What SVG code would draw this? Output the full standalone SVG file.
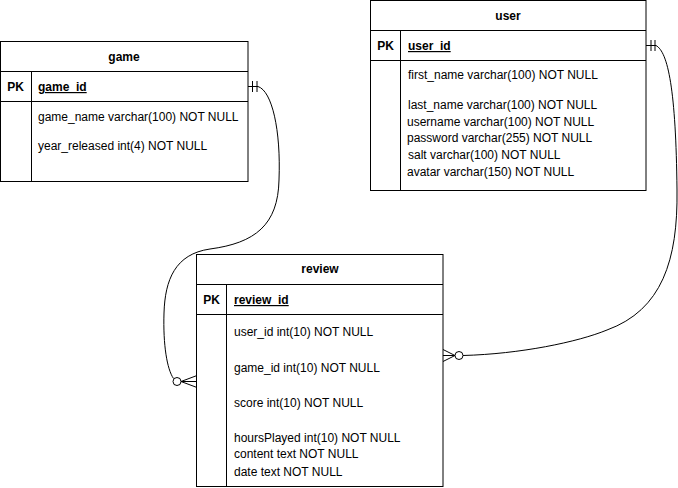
<svg xmlns="http://www.w3.org/2000/svg" width="678" height="488" viewBox="0 0 678 488">
<style>
  .box { fill: #fff; stroke: #000; stroke-width: 1; }
  .ln { fill: none; stroke: #000; stroke-width: 1; }
  .edge { fill: none; stroke: #000; stroke-width: 1; }
  .circ { fill: #fff; stroke: #000; stroke-width: 1; }
  text { font-family: "Liberation Sans", Arial, sans-serif; font-size: 12px; fill: #000; }
  .hdr { font-weight: bold; text-anchor: middle; }
  .pk { font-weight: bold; text-anchor: middle; }
  .key { font-weight: bold; text-decoration: underline; }
</style>
<rect x="0" y="0" width="678" height="488" fill="#fff"/>

<g id="game">
  <rect class="box" x="0.5" y="41.5" width="247.5" height="140"/>
  <line class="ln" x1="0.5" y1="71.5" x2="248" y2="71.5"/>
  <line class="ln" x1="0.5" y1="101.5" x2="248" y2="101.5"/>
  <line class="ln" x1="31.5" y1="71.5" x2="31.5" y2="181.5"/>
  <text class="hdr" x="124" y="61">game</text>
  <text class="pk" x="15.5" y="91">PK</text>
  <text class="key" x="38" y="91">game_id</text>
  <text x="38" y="121">game_name varchar(100) NOT NULL</text>
  <text x="38" y="150">year_released int(4) NOT NULL</text>
</g>

<g id="user">
  <rect class="box" x="370.5" y="0.5" width="275.5" height="190"/>
  <line class="ln" x1="370.5" y1="30.5" x2="646" y2="30.5"/>
  <line class="ln" x1="370.5" y1="60.5" x2="646" y2="60.5"/>
  <line class="ln" x1="400.5" y1="30.5" x2="400.5" y2="190.5"/>
  <text class="hdr" x="508" y="20">user</text>
  <text class="pk" x="385.5" y="50">PK</text>
  <text class="key" x="408" y="50">user_id</text>
  <text x="408" y="79">first_name varchar(100) NOT NULL</text>
  <text x="408" y="109">last_name varchar(100) NOT NULL</text>
  <text x="407" y="126">username varchar(100) NOT NULL</text>
  <text x="407" y="142">password varchar(255) NOT NULL</text>
  <text x="408" y="159">salt varchar(100) NOT NULL</text>
  <text x="407" y="175.5">avatar varchar(150) NOT NULL</text>
</g>

<g id="review">
  <rect class="box" x="196.5" y="254.5" width="246.5" height="232"/>
  <line class="ln" x1="196.5" y1="284.5" x2="443" y2="284.5"/>
  <line class="ln" x1="196.5" y1="314.5" x2="443" y2="314.5"/>
  <line class="ln" x1="226.5" y1="284.5" x2="226.5" y2="486.5"/>
  <text class="hdr" x="320" y="273">review</text>
  <text class="pk" x="211.5" y="304">PK</text>
  <text class="key" x="234" y="304">review_id</text>
  <text x="234" y="336">user_id int(10) NOT NULL</text>
  <text x="234" y="372">game_id int(10) NOT NULL</text>
  <text x="234" y="407">score int(10) NOT NULL</text>
  <text x="234" y="442">hoursPlayed int(10) NOT NULL</text>
  <text x="234" y="458">content text NOT NULL</text>
  <text x="234" y="476">date text NOT NULL</text>
</g>

<g id="connectors">
  <!-- game.game_id to review (left side) -->
  <path class="edge" d="M248,86.5 L258,86.5 C272,91 281,130 279,180 C278,225 255,243 210,249 C175,254 165,280 164,313 C163,345 167,369 173.5,378.5"/>
  <line class="edge" x1="252.5" y1="81" x2="252.5" y2="92"/>
  <line class="edge" x1="257" y1="81" x2="257" y2="92"/>
  <path class="edge" d="M197,375.5 L181,381.5 L197,387.5 M181,381.5 L197,381.5"/>
  <circle class="circ" cx="177" cy="381.5" r="4"/>

  <!-- user.user_id to review (right side) -->
  <path class="edge" d="M646,45.5 L656,45.5 C668,52 676,90 677,190 C678,260 662,310 607,330 C578,342 520,354 463,355.5"/>
  <line class="edge" x1="651" y1="40" x2="651" y2="51"/>
  <line class="edge" x1="655" y1="40" x2="655" y2="51"/>
  <path class="edge" d="M443,349.5 L455,355.5 L443,361.5 M443,355.5 L455,355.5"/>
  <circle class="circ" cx="459" cy="355.5" r="4"/>
</g>
</svg>
